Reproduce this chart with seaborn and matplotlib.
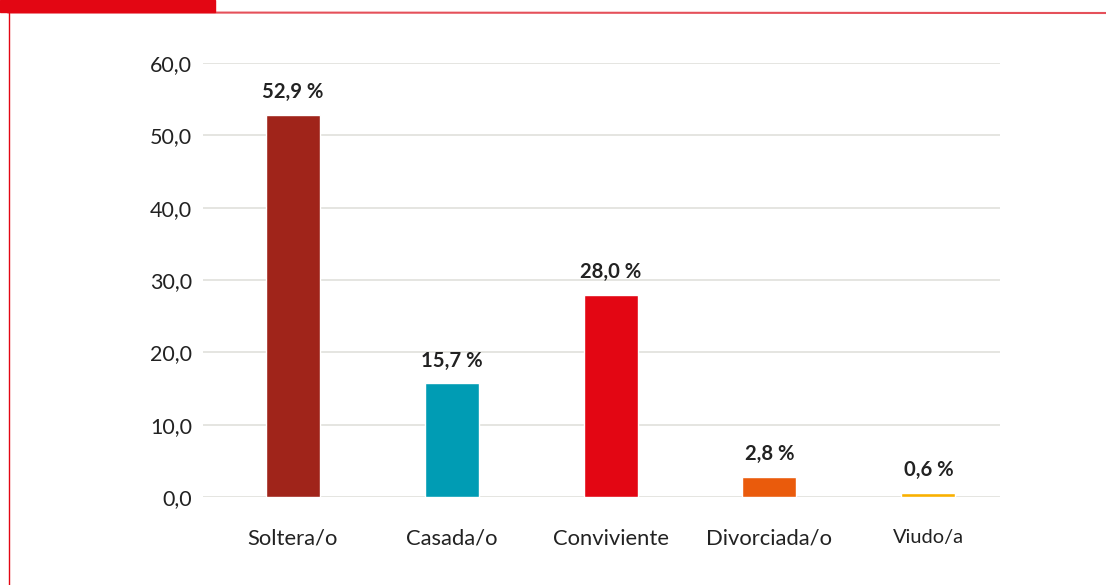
import matplotlib
matplotlib.use("Agg")
import matplotlib.pyplot as plt
import seaborn as sns
import pandas as pd
from matplotlib.patches import Rectangle
from matplotlib.lines import Line2D

categories = ["Soltera/o", "Casada/o", "Conviviente", "Divorciada/o", "Viudo/a"]
values = [52.9, 15.7, 28.0, 2.8, 0.6]
value_labels = ["52,9 %", "15,7 %", "28,0 %", "2,8 %", "0,6 %"]
colors = ["#A0241A", "#009CB4", "#E30613", "#EA5B0C", "#F9B000"]
yticks = [0, 10, 20, 30, 40, 50, 60]
ytick_labels = ["0,0", "10,0", "20,0", "30,0", "40,0", "50,0", "60,0"]

sns.set_theme(style="white")
plt.rcParams['font.family'] = ['Lato', 'DejaVu Sans']

fig = plt.figure(figsize=(11.06, 5.85), dpi=100)
ax = fig.add_axes([0.1835, 0.1504, 0.7205, 0.7416])

df = pd.DataFrame({"cat": categories, "val": values})
sns.barplot(data=df, x="cat", y="val", hue="cat", palette=colors, legend=False,
            width=0.34, ax=ax, saturation=1, zorder=3)

ax.set_xlim(-0.566, 4.45)
ax.set_ylim(0, 60)
ax.set_yticks(yticks)
ax.set_yticklabels(ytick_labels, fontsize=15.5, color="#222222")
ax.set_xlabel("")
ax.set_ylabel("")
ax.tick_params(axis="y", length=0, pad=8)
ax.tick_params(axis="x", length=0, pad=23)
for i, lab in enumerate(ax.get_xticklabels()):
    lab.set_fontsize(15.8 if i < 4 else 14.4)
    lab.set_color("#222222")
for y in yticks:
    ax.axhline(y, color="#E3E3DE", lw=1.3, zorder=1)
for s in ax.spines.values():
    s.set_visible(False)

for i, (v, t) in enumerate(zip(values, value_labels)):
    ax.annotate(t, (i, v), xytext=(0, 9), textcoords="offset points",
                ha="center", va="bottom", fontsize=14.6, fontweight="bold", color="#222222")

# frame decorations
fig.patches.append(Rectangle((0, 1 - 12/585), 215/1106, 12/585, transform=fig.transFigure,
                             color="#E30613", zorder=5))
fig.lines.append(Line2D([8/1106, 1], [1 - 12.5/585, 1 - 13/585], transform=fig.transFigure,
                        color="#E5505A", lw=1.5))
fig.lines.append(Line2D([9/1106, 9/1106], [1 - 12.5/585, 0], transform=fig.transFigure,
                        color="#E30613", lw=1.0))

fig.savefig("out.png", dpi=100)
